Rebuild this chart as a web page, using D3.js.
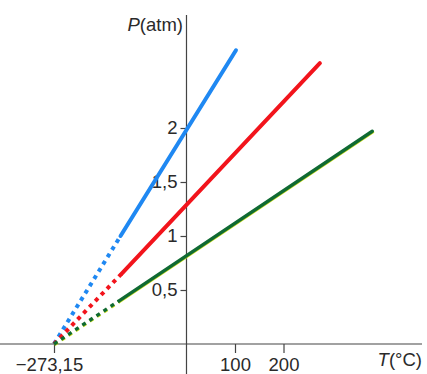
<!DOCTYPE html>
<html>
<head>
<meta charset="utf-8">
<script src="https://cdn.jsdelivr.net/npm/d3@7"></script>
<style>
  body { margin: 0; background: #fff; }
  text { font-family: "Liberation Sans", Arial, sans-serif; fill: #2a2a2a; }
</style>
</head>
<body>
<svg id="container" width="427" height="374"></svg>
<script>
(function (d3) {
  'use strict';

  // each gas line = absolute zero, end of dotted part, end of solid part
  const names = ['blue', 'red', 'green'];
  const colors = ['#1f88f2', '#f2141c', '#0f6a33'];
  const breakT = [-136, -134, -139];
  const breakP = [1.0, 0.65, 0.40];
  const endT = [102, 275, 383];
  const endP = [2.72, 2.6, 1.97];
  const zeroT = -273.15;

  const xTicks = [-273.15, 100, 200];
  const xTickLabels = ['−273,15', '100', '200'];
  const yTicks = [0.5, 1, 1.5, 2];

  const svg = d3.select('#container');

  const x = d3.scaleLinear().domain([-273.15, 100]).range([54, 235]);
  const y = d3.scaleLinear().domain([0, 2]).range([344, 128]);
  const comma = d3.formatLocale({ decimal: ',', thousands: '.', grouping: [3], currency: ['', ''] }).format('~g');

  // axes lines
  svg.append('line')
    .attr('x1', 0).attr('x2', 422)
    .attr('y1', y(0)).attr('y2', y(0))
    .attr('stroke', '#444').attr('stroke-width', 1.2);
  svg.append('line')
    .attr('x1', x(0)).attr('x2', x(0))
    .attr('y1', 15).attr('y2', 374)
    .attr('stroke', '#444').attr('stroke-width', 1.2);

  const yAxis = svg.append('g')
    .attr('transform', `translate(${x(0)},0)`)
    .call(d3.axisLeft(y).tickValues(yTicks).tickSize(6).tickPadding(3).tickFormat(comma));
  yAxis.select('.domain').remove();
  yAxis.selectAll('line').attr('stroke', '#444').attr('stroke-width', 1.2);
  yAxis.selectAll('text').attr('font-size', 18.5).attr('fill', '#2a2a2a')
    .attr('font-family', '"Liberation Sans", Arial, sans-serif');

  const xAxis = svg.append('g')
    .attr('transform', `translate(0,${y(0)})`)
    .call(d3.axisBottom(x).tickValues(xTicks).tickSize(9).tickPadding(5)
      .tickFormat((d, i) => xTickLabels[i]));
  xAxis.select('.domain').remove();
  xAxis.selectAll('line').attr('stroke', '#444').attr('stroke-width', 1.2);
  xAxis.selectAll('text').attr('font-size', 18.5).attr('fill', '#2a2a2a')
    .attr('font-family', '"Liberation Sans", Arial, sans-serif');
  xAxis.selectAll('text').filter((d, i) => i === 0).attr('dx', -5);

  // gas lines
  names.forEach((name, i) => {
    const g = svg.append('g').attr('class', 'gas-' + name);
    const dotted = [[zeroT, 0], [breakT[i], breakP[i]]];
    const solid = [[breakT[i], breakP[i]], [endT[i], endP[i]]];
    const line = d3.line().x((d) => x(d[0])).y((d) => y(d[1]));
    const w = name === 'green' ? 3.4 : 4;

    if (name === 'green') {
      // yellowish edge seen under the green print
      g.append('path').attr('d', line(solid)).attr('transform', 'translate(0.5,0.8)')
        .attr('fill', 'none').attr('stroke', '#c9dc1a').attr('stroke-width', 3)
        .attr('stroke-linecap', 'round');
      g.append('path').attr('d', line(dotted)).attr('transform', 'translate(0.5,0.8)')
        .attr('fill', 'none').attr('stroke', '#c9dc1a').attr('stroke-width', 3)
        .attr('stroke-dasharray', '4,4.5');
    }
    g.append('path').attr('d', line(dotted))
      .attr('fill', 'none').attr('stroke', colors[i]).attr('stroke-width', w)
      .attr('stroke-dasharray', '4,4.5');
    g.append('path').attr('d', line(solid))
      .attr('fill', 'none').attr('stroke', colors[i]).attr('stroke-width', w)
      .attr('stroke-linecap', 'round');
  });

  // axis titles
  const pLabel = svg.append('text')
    .attr('x', 183).attr('y', 31).attr('text-anchor', 'end').attr('font-size', 18.5);
  pLabel.append('tspan').attr('font-style', 'italic').text('P');
  pLabel.append('tspan').text('(atm)');

  const tLabel = svg.append('text')
    .attr('x', 422).attr('y', 366).attr('text-anchor', 'end').attr('font-size', 18.5);
  tLabel.append('tspan').attr('font-style', 'italic').text('T');
  tLabel.append('tspan').text('(°C)');

}(d3));
</script>
</body>
</html>
